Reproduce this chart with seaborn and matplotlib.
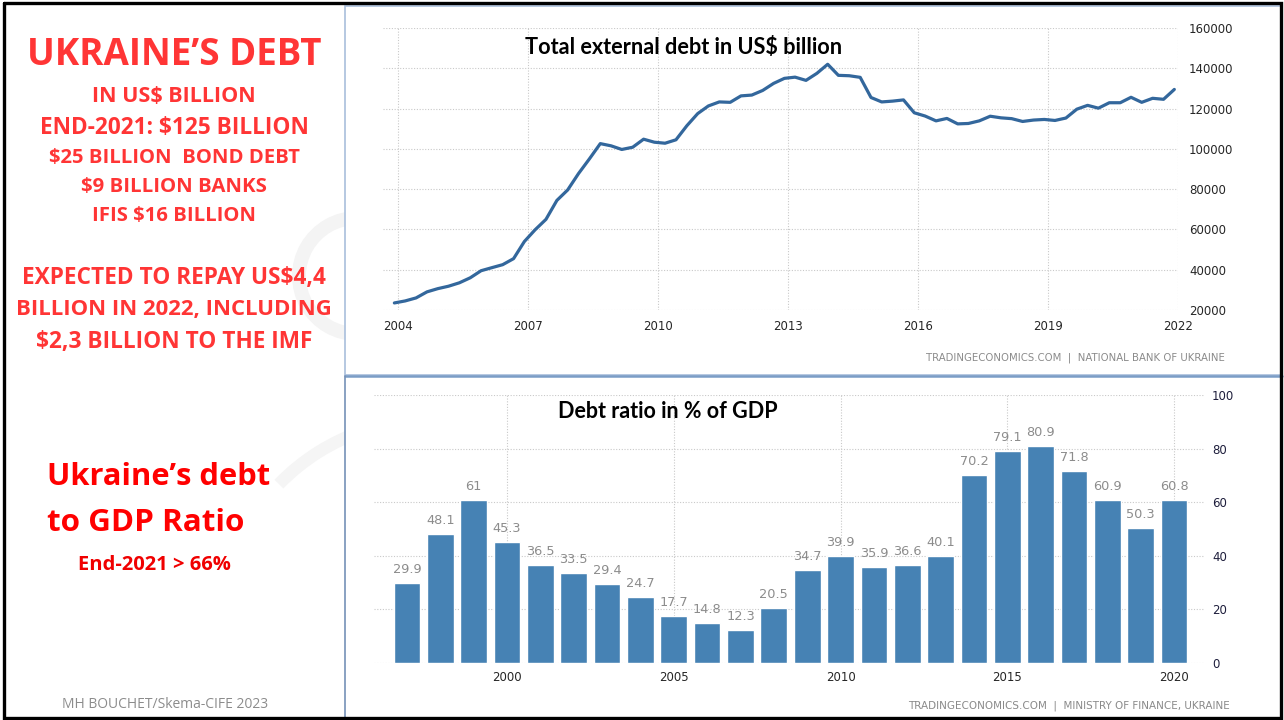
import matplotlib
matplotlib.use("Agg")
import matplotlib.pyplot as plt
import matplotlib.dates as mdates
from matplotlib.patches import Arc, Rectangle
from matplotlib.lines import Line2D
import seaborn as sns
import pandas as pd

# Quarterly total external debt, USD million (Q4 2003 - Q4 2021)
debt_first_quarter = "2003-12-01"
external_debt = [
    23500, 24500, 26000, 29000, 30600, 31800, 33500, 36000, 39500, 41000,
    42500, 45500, 54000, 59800, 65000, 74400, 79600, 87700, 95000, 102600,
    101500, 99700, 100800, 104800, 103300, 102800, 104500, 111500, 117500, 121300,
    123300, 123100, 126300, 126700, 129000, 132500, 135000, 135600, 134000, 137500,
    142000, 136500, 136300, 135500, 125500, 123300, 123700, 124300, 117900, 116300,
    113900, 115100, 112400, 112600, 113900, 116200, 115400, 115000, 113600, 114300,
    114600, 114100, 115300, 119700, 121600, 120200, 122900, 122900, 125600, 123100,
    125100, 124600, 129500,
]
debt_year_ticks = [2004, 2007, 2010, 2013, 2016, 2019, 2022]
debt_value_ticks = [20000, 40000, 60000, 80000, 100000, 120000, 140000, 160000]

# Annual government debt, % of GDP
ratio_years = list(range(1997, 2021))
debt_to_gdp = [29.9, 48.1, 61, 45.3, 36.5, 33.5, 29.4, 24.7, 17.7, 14.8, 12.3, 20.5,
               34.7, 39.9, 35.9, 36.6, 40.1, 70.2, 79.1, 80.9, 71.8, 60.9, 50.3, 60.8]
ratio_year_ticks = [2000, 2005, 2010, 2015, 2020]
ratio_value_ticks = [0, 20, 40, 60, 80, 100]

sns.set_theme(style="white")
plt.rcParams["font.family"] = ["DejaVu Sans"]

W, H = 1284, 720
fig = plt.figure(figsize=(W / 100, H / 100), dpi=100)
fig.patch.set_facecolor("white")

# Slide canvas in pixel units
bg = fig.add_axes([0, 0, 1, 1], zorder=0)
bg.set_xlim(0, W)
bg.set_ylim(H, 0)
bg.axis("off")

# faint watermark swooshes
bg.add_patch(Arc((357, 276), 116, 116, theta1=60, theta2=300,
                 color="#f4f4f4", lw=10, zorder=1))
bg.add_patch(Arc((430, 630), 420, 420, theta1=224, theta2=252,
                 color="#f5f5f5", lw=9, zorder=1))

# chart panels
bg.add_patch(Rectangle((345, 6), 937, 369, facecolor="white",
                       edgecolor="#a9bfdc", lw=1.2, zorder=2))
bg.add_patch(Rectangle((345, 376), 937, 342, facecolor="white",
                       edgecolor="none", zorder=2))
bg.add_line(Line2D([345, 1282], [375.5, 375.5], color="#7b9dc6", lw=1.8, zorder=3))
bg.add_line(Line2D([345, 345], [376, 718], color="#7591b7", lw=1.2, zorder=3))

# outer slide frame
bg.add_line(Line2D([4, 1281, 1281, 4, 4], [2.5, 2.5, 717.5, 717.5, 2.5],
                   color="black", lw=2.4, zorder=4, solid_joinstyle="miter"))

red_a = "#ff3535"
red_b = "#ff0000"
bold_font = ["Open Sans", "DejaVu Sans"]
left_lines = [
    ("UKRAINE\u2019S DEBT", 55, 26.5, red_a),
    ("IN US$ BILLION", 96, 15.5, red_a),
    ("END-2021: $125 BILLION", 128, 16.3, red_a),
    ("$25 BILLION  BOND DEBT", 158, 14.6, red_a),
    ("$9 BILLION BANKS", 187, 14.7, red_a),
    ("IFIS $16 BILLION", 216, 14.6, red_a),
    ("EXPECTED TO REPAY US$4,4", 278, 16.3, red_a),
    ("BILLION IN 2022, INCLUDING", 310, 15.9, red_a),
    ("$2,3 BILLION TO THE IMF", 342, 16.3, red_a),
]
for txt, y, size, col in left_lines:
    bg.text(174, y, txt, ha="center", va="center", fontsize=size,
            fontweight="bold", color=col, family=bold_font, zorder=5)

bg.text(47, 477, "Ukraine\u2019s debt", ha="left", va="center", fontsize=22.2,
        fontweight="bold", color=red_b, family=bold_font, zorder=5)
bg.text(47, 523, "to GDP Ratio", ha="left", va="center", fontsize=22.6,
        fontweight="bold", color=red_b, family=bold_font, zorder=5)
bg.text(154, 565, "End-2021 > 66%", ha="center", va="center", fontsize=14.5,
        fontweight="bold", color="#f00000", family=bold_font, zorder=5)
bg.text(165, 705, "MH BOUCHET/Skema-CIFE 2023", ha="center", va="center",
        fontsize=10, color="#8c8c8c", family=["Open Sans", "DejaVu Sans"], zorder=5)

grid_kw = dict(color="#c9c9c9", linestyle=(0, (1, 1.5)), linewidth=0.8)


def frac(x0, y0, x1, y1):
    return [x0 / W, 1 - y1 / H, (x1 - x0) / W, (y1 - y0) / H]


def fig_text(x, y, s, **kw):
    fig.text(x / W, 1 - y / H, s, zorder=20, **kw)


# ---- Total external debt (line) ----
ax1 = fig.add_axes(frac(383, 28, 1178, 310), zorder=5)
debt_df = pd.DataFrame({
    "date": pd.date_range(debt_first_quarter, periods=len(external_debt), freq="3MS"),
    "debt": external_debt,
})
sns.lineplot(data=debt_df, x="date", y="debt", ax=ax1, color="#33679c",
             linewidth=2.3, solid_joinstyle="round", solid_capstyle="round")
tick_dates = [mdates.date2num(pd.Timestamp(f"{y}-01-01")) for y in debt_year_ticks]
ax1.set_xticks(tick_dates)
ax1.set_xticklabels([str(y) for y in debt_year_ticks])
left_edge = mdates.date2num(pd.Timestamp("2004-01-01")) - 0.347 * 365.25
ax1.set_xlim(left_edge, tick_dates[-1])
ax1.set_ylim(20000, 160000)
ax1.set_yticks(debt_value_ticks)
ax1.set_yticklabels([str(v) for v in debt_value_ticks])
ax1.yaxis.tick_right()
ax1.tick_params(axis="y", length=0, pad=8, labelsize=8.5, labelcolor="#262626")
ax1.tick_params(axis="x", length=0, pad=7, labelsize=8.5, labelcolor="#262626")
ax1.grid(True, **grid_kw)
ax1.set_xlabel("")
ax1.set_ylabel("")
for s in ax1.spines.values():
    s.set_visible(False)
ax1.set_facecolor("white")

fig_text(525, 47, "Total external debt in US$ billion", ha="left", va="center",
         fontsize=15.6, fontweight="bold", color="black", family=["Lato", "DejaVu Sans"])
fig_text(1225, 358, "TRADINGECONOMICS.COM  |  NATIONAL BANK OF UKRAINE", ha="right",
         va="center", fontsize=7.3, color="#8a8a8a")

# ---- Debt ratio in % of GDP (bars) ----
ax2 = fig.add_axes(frac(374, 395, 1205, 663), zorder=5)
ax2.set_axisbelow(True)
ax2.grid(True, **grid_kw)
sns.barplot(x=ratio_years, y=debt_to_gdp, native_scale=True, color="#4682b4",
            saturation=1, width=0.8, errorbar=None, ax=ax2)
ax2.bar_label(ax2.containers[0], labels=[f"{v:g}" for v in debt_to_gdp],
              padding=5, color="#8c8c8c", fontsize=9.3)
ax2.set_xlim(1996.01, 2020.93)
ax2.set_ylim(0, 100)
ax2.set_xticks(ratio_year_ticks)
ax2.set_xticklabels([str(y) for y in ratio_year_ticks])
ax2.set_yticks(ratio_value_ticks)
ax2.set_yticklabels([str(v) for v in ratio_value_ticks])
ax2.yaxis.tick_right()
ax2.tick_params(axis="y", length=0, pad=5, labelsize=8.5, labelcolor="#1e1e3c")
ax2.tick_params(axis="x", length=0, pad=6, labelsize=8.5, labelcolor="#262626")
ax2.set_xlabel("")
ax2.set_ylabel("")
for s in ax2.spines.values():
    s.set_visible(False)
ax2.set_facecolor("white")

fig_text(558, 412, "Debt ratio in % of GDP", ha="left", va="center",
         fontsize=15.5, fontweight="bold", color="black", family=["Lato", "DejaVu Sans"])
fig_text(1230, 706, "TRADINGECONOMICS.COM  |  MINISTRY OF FINANCE, UKRAINE", ha="right",
         va="center", fontsize=7.5, color="#8a8a8a")

fig.savefig("out.png", dpi=100, facecolor="white")
